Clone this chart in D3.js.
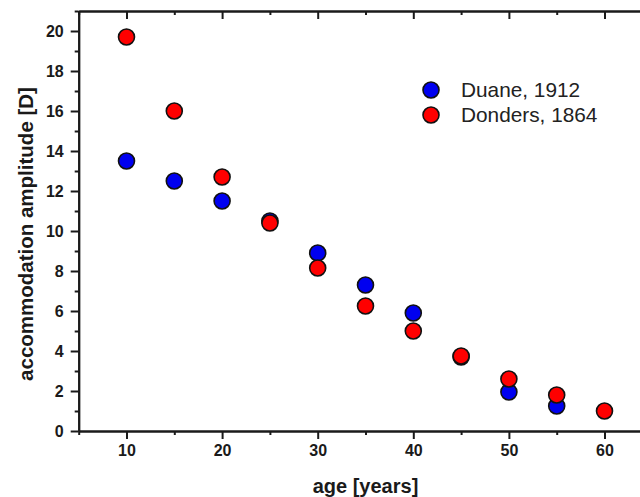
<!DOCTYPE html>
<meta charset="utf-8">
<head>
<title>Accommodation amplitude vs age</title>
<style>
  body { margin: 0; background: white; }
  text { font-family: Arial, "Liberation Sans", sans-serif; }
</style>
</head>
<body>
<div id="chart"></div>
<script src="https://cdnjs.cloudflare.com/ajax/libs/d3/7.8.5/d3.min.js"></script>
<script>

// values
var duaneAge = [10, 15, 20, 25, 30, 35, 40, 45, 50, 55];
var duaneAmp = [13.5, 12.5, 11.5, 10.5, 8.9, 7.3, 5.9, 3.7, 1.95, 1.25];
var dondersAge = [10, 15, 20, 25, 30, 35, 40, 45, 50, 55, 60];
var dondersAmp = [19.7, 16.0, 12.7, 10.4, 8.15, 6.25, 5.0, 3.75, 2.6, 1.8, 1.0];
var xMajor = [10, 20, 30, 40, 50, 60];
var xMinor = [5, 15, 25, 35, 45, 55, 65];
var yMajor = [0, 2, 4, 6, 8, 10, 12, 14, 16, 18, 20];
var yMinor = [1, 3, 5, 7, 9, 11, 13, 15, 17, 19, 21];
var seriesNames = ["Duane, 1912", "Donders, 1864"];
var seriesColors = ["#0000f0", "#ff0000"];

var margin = {top: 11, left: 78.7},
    width = 573.6,
    height = 420;

var svg = d3.select("#chart")
  .append("svg")
    .attr("width", 640)
    .attr("height", 497)
  .append("g")
    .attr("transform", "translate(" + margin.left + "," + margin.top + ")");

var x = d3.scaleLinear().domain([5, 65]).range([0, width]);
var y = d3.scaleLinear().domain([0, 21]).range([height, 0]);

function styleAxis(g) {
  g.select(".domain").attr("stroke", "#1a1a1a").attr("stroke-width", 2);
  g.selectAll(".tick line").attr("stroke", "#1a1a1a").attr("stroke-width", 2);
  g.selectAll(".tick text")
    .attr("fill", "#1a1a1a")
    .style("font-size", "16px")
    .style("font-weight", "bold");
}

// bottom axis
svg.append("g")
  .attr("transform", "translate(0," + height + ")")
  .call(d3.axisBottom(x).tickValues(xMinor).tickSize(4).tickSizeOuter(0).tickFormat(""))
  .call(styleAxis);
svg.append("g")
  .attr("transform", "translate(0," + height + ")")
  .call(d3.axisBottom(x).tickValues(xMajor).tickSize(8).tickSizeOuter(0).tickPadding(6))
  .call(styleAxis);

// top axis, ticks pointing inwards
svg.append("g")
  .call(d3.axisBottom(x).tickValues(xMinor).tickSize(4).tickSizeOuter(0).tickFormat(""))
  .call(styleAxis);
svg.append("g")
  .call(d3.axisBottom(x).tickValues(xMajor).tickSize(8).tickSizeOuter(0).tickFormat(""))
  .call(styleAxis);

// left axis
svg.append("g")
  .call(d3.axisLeft(y).tickValues(yMinor).tickSize(4).tickSizeOuter(0).tickFormat(""))
  .call(styleAxis);
svg.append("g")
  .call(d3.axisLeft(y).tickValues(yMajor).tickSize(8).tickSizeOuter(0).tickPadding(7))
  .call(styleAxis);

// points: blue first, red on top
var series = [
  {name: seriesNames[0], color: seriesColors[0], age: duaneAge, amp: duaneAmp},
  {name: seriesNames[1], color: seriesColors[1], age: dondersAge, amp: dondersAmp}
];

series.forEach(function(s) {
  svg.append("g")
    .selectAll("circle")
    .data(s.age)
    .enter().append("circle")
      .attr("cx", function(d) { return x(d); })
      .attr("cy", function(d, i) { return y(s.amp[i]); })
      .attr("r", 8)
      .attr("fill", s.color)
      .attr("stroke", "#111")
      .attr("stroke-width", 1.6);
});

// legend
var legend = svg.append("g")
  .attr("transform", "translate(" + (431 - margin.left) + "," + (90 - margin.top) + ")");

legend.selectAll("circle")
  .data(series)
  .enter().append("circle")
    .attr("cx", 0)
    .attr("cy", function(d, i) { return i * 25; })
    .attr("r", 8)
    .attr("fill", function(d) { return d.color; })
    .attr("stroke", "#111")
    .attr("stroke-width", 1.6);

legend.selectAll("text")
  .data(series)
  .enter().append("text")
    .attr("x", 30)
    .attr("y", function(d, i) { return i * 25 + 7; })
    .style("font-size", "20.8px")
    .attr("fill", "#222")
    .text(function(d) { return d.name; });

// axis titles
svg.append("text")
  .attr("text-anchor", "middle")
  .attr("x", width / 2)
  .attr("y", 482)
  .style("font-size", "20px")
  .style("font-weight", "bold")
  .attr("fill", "#1a1a1a")
  .text("age [years]");

svg.append("text")
  .attr("text-anchor", "middle")
  .attr("transform", "translate(" + (33 - margin.left) + "," + (234 - margin.top) + ") rotate(-90)")
  .style("font-size", "20.5px")
  .style("font-weight", "bold")
  .attr("fill", "#1a1a1a")
  .text("accommodation amplitude [D]");

</script>
</body>
